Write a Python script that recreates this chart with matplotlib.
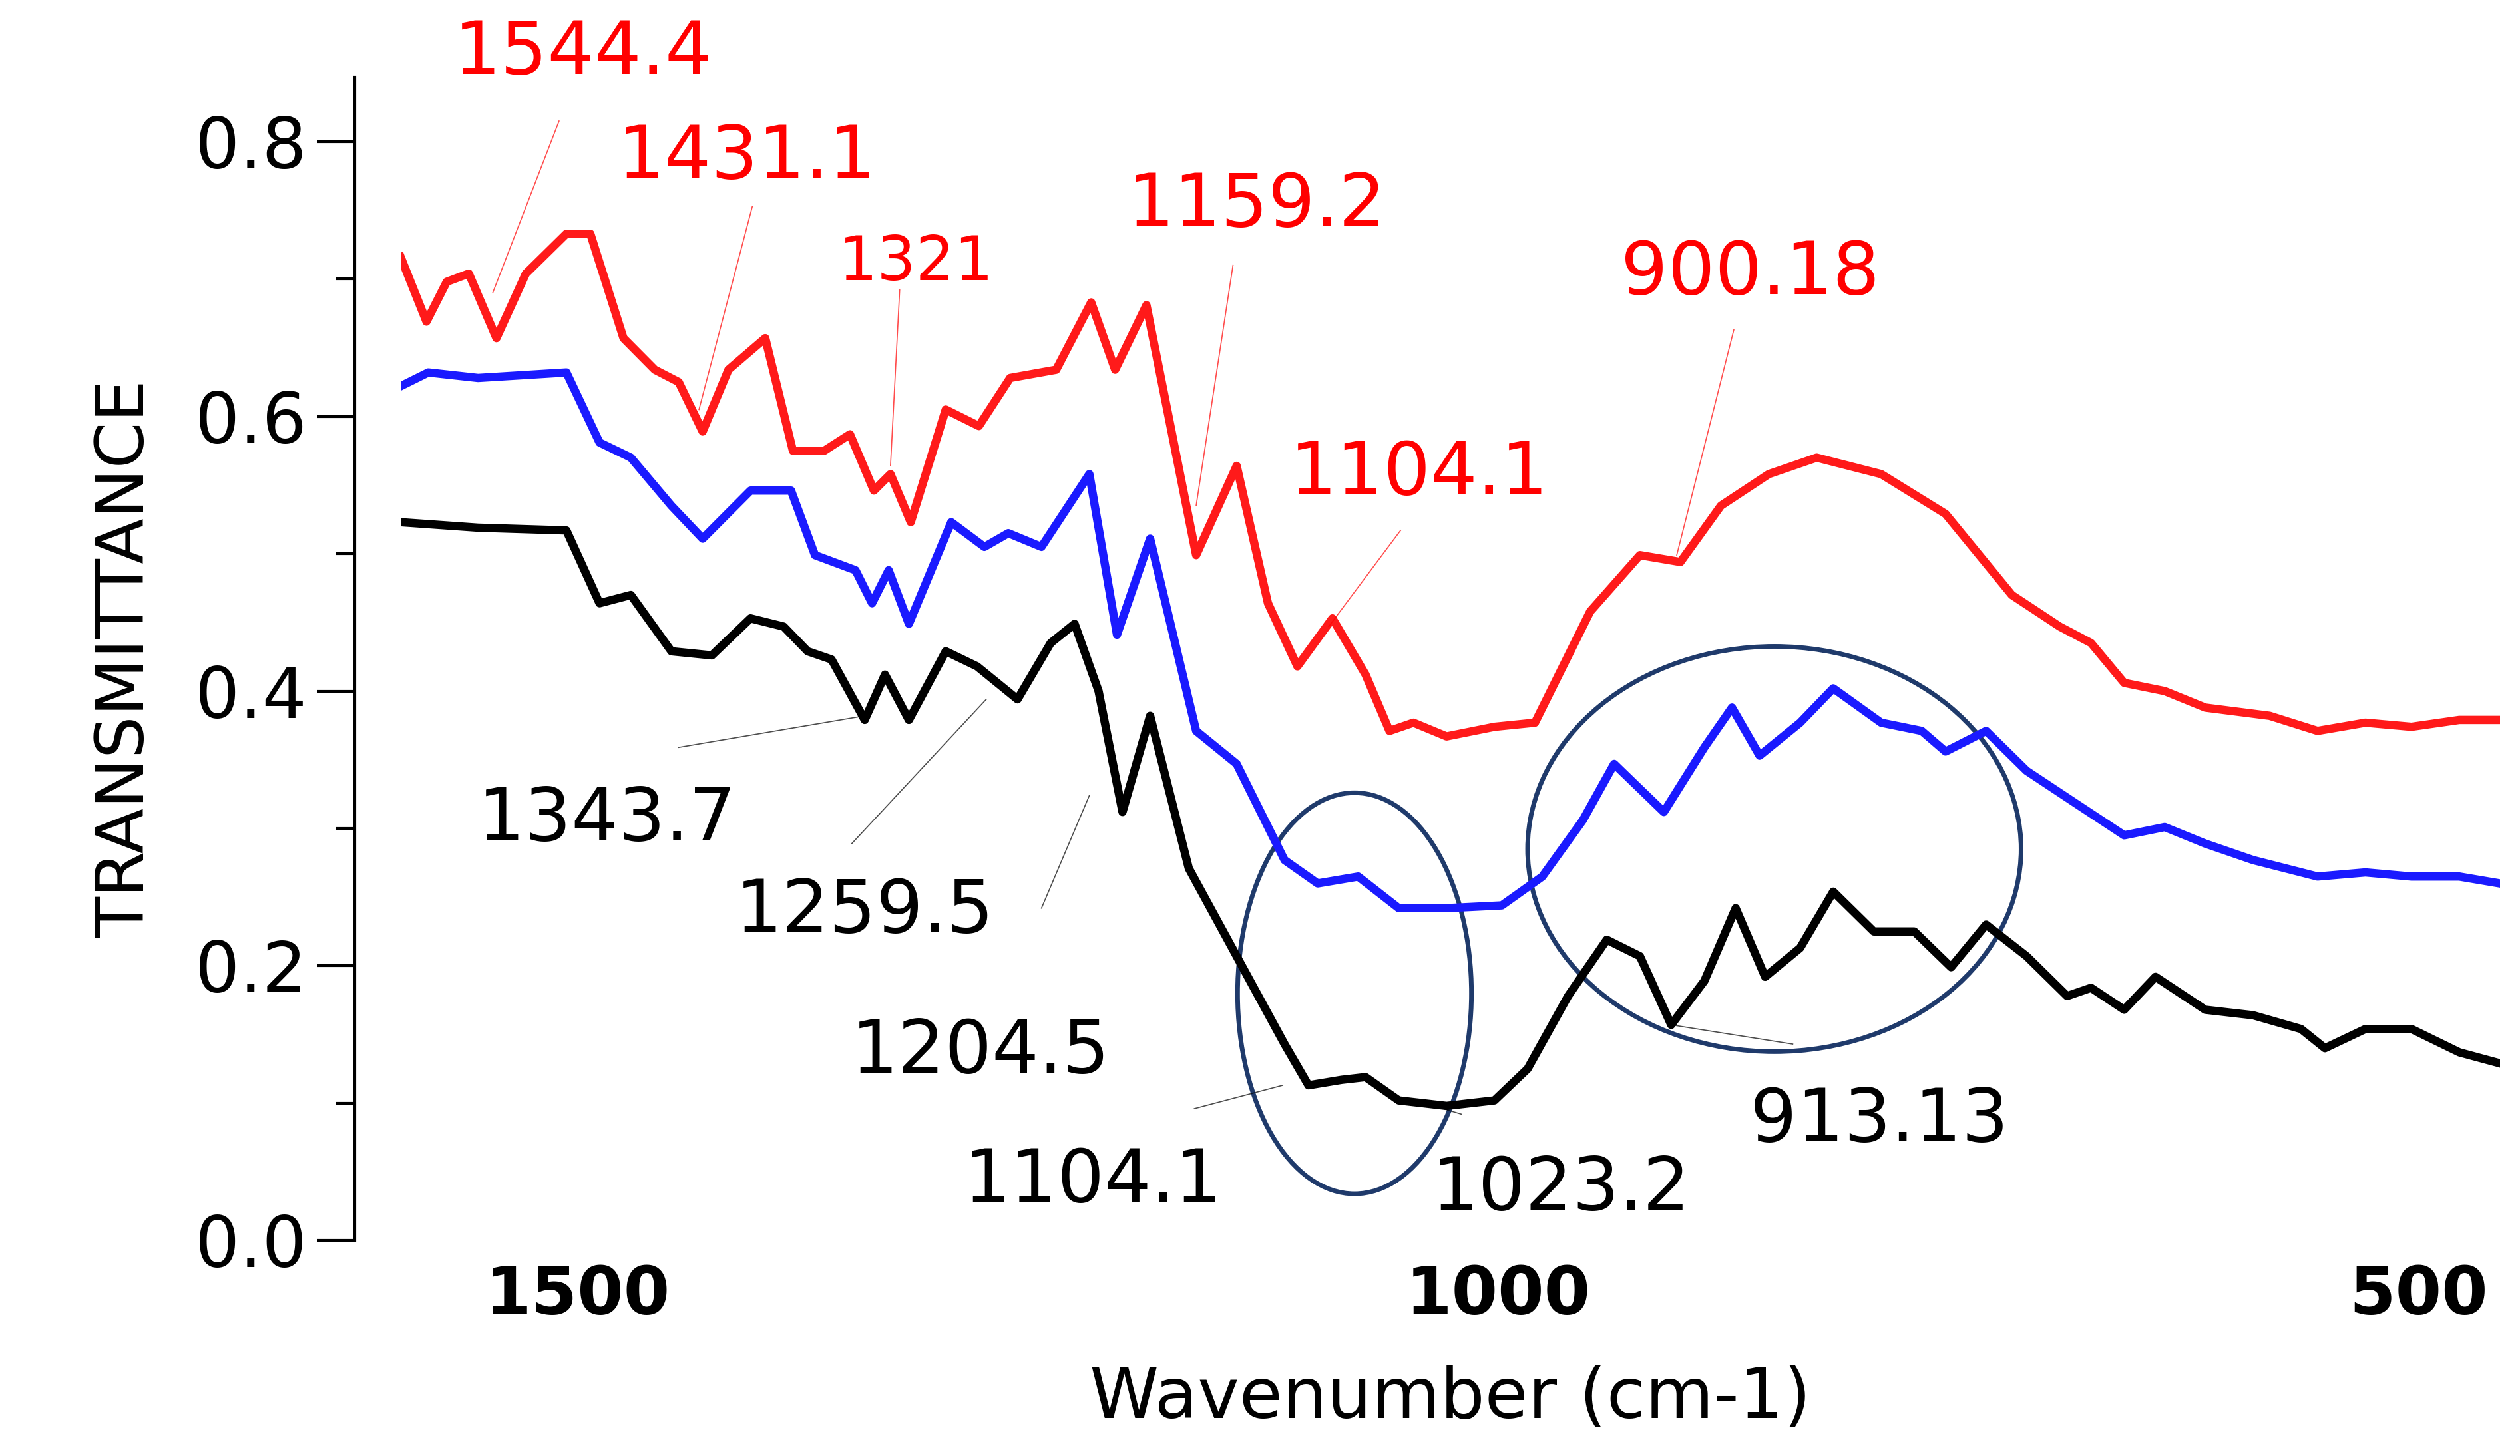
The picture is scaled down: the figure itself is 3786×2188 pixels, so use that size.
import matplotlib
matplotlib.use("Agg")
import matplotlib.pyplot as plt
from matplotlib.patches import Ellipse

red_x = [1596,1582,1571,1559,1544,1528,1506,1493,1475,1458,1445,1432,1418,1398,1383,1366,1352,1339,1330,1319,1300,1282,1265,1240,1221,1208,1191,1164,1142,1125,1109,1090,1072,1059,1046,1028,1002,980,950,923,901,879,853,827,792,757,721,695,678,660,638,616,581,555,529,504,478,456]
red_y = [0.716,0.669,0.698,0.704,0.657,0.704,0.733,0.733,0.657,0.634,0.625,0.589,0.634,0.657,0.575,0.575,0.587,0.546,0.558,0.523,0.605,0.593,0.628,0.634,0.683,0.634,0.681,0.499,0.564,0.464,0.418,0.453,0.412,0.371,0.377,0.367,0.374,0.377,0.458,0.499,0.494,0.535,0.558,0.570,0.558,0.529,0.470,0.447,0.435,0.406,0.400,0.388,0.382,0.371,0.377,0.374,0.379,0.379]
blue_x = [1596,1581,1554,1506,1488,1471,1449,1432,1406,1384,1371,1349,1340,1331,1320,1297,1279,1266,1248,1222,1207,1189,1164,1142,1116,1098,1076,1054,1028,998,976,954,937,910,888,873,858,836,818,792,770,757,735,713,686,660,638,616,590,555,529,504,478,456]
blue_y = [0.622,0.632,0.628,0.632,0.581,0.570,0.535,0.511,0.546,0.546,0.499,0.488,0.464,0.488,0.449,0.523,0.505,0.515,0.505,0.558,0.441,0.511,0.371,0.347,0.277,0.260,0.265,0.242,0.242,0.244,0.265,0.306,0.347,0.312,0.359,0.388,0.353,0.377,0.402,0.377,0.371,0.356,0.371,0.342,0.318,0.295,0.301,0.289,0.277,0.265,0.268,0.265,0.265,0.260]
black_x = [1596,1554,1506,1488,1471,1449,1427,1406,1388,1375,1362,1344,1333,1320,1300,1283,1261,1243,1230,1217,1204,1189,1168,1142,1116,1103,1085,1072,1054,1028,1002,984,962,941,923,906,888,871,855,836,818,796,774,754,735,713,691,678,660,643,616,590,564,551,529,504,478,456]
black_y = [0.523,0.519,0.517,0.464,0.470,0.429,0.426,0.453,0.447,0.429,0.423,0.379,0.412,0.379,0.429,0.418,0.394,0.435,0.449,0.400,0.312,0.382,0.271,0.207,0.143,0.113,0.117,0.119,0.102,0.098,0.102,0.125,0.178,0.219,0.207,0.157,0.189,0.242,0.192,0.213,0.254,0.225,0.225,0.199,0.230,0.207,0.178,0.184,0.168,0.192,0.168,0.164,0.154,0.140,0.154,0.154,0.137,0.129]

# (text, x, y, color, size, line from, line to)
labels = [
    ("1544.4", 1497, 0.864, "red", 80, (1510, 0.815), (1546, 0.690)),
    ("1431.1", 1408, 0.788, "red", 80, (1405, 0.753), (1434, 0.605)),
    ("1321", 1316, 0.712, "red", 66, (1325, 0.692), (1330, 0.564)),
    ("1159.2", 1131, 0.753, "red", 80, (1144, 0.710), (1164, 0.535)),
    ("1104.1", 1043, 0.558, "red", 80, (1053, 0.517), (1092, 0.447)),
    ("900.18", 863, 0.704, "red", 80, (872, 0.663), (903, 0.499)),
    ("1343.7", 1484, 0.306, "black", 80, (1445, 0.359), (1344, 0.382)),
    ("1259.5", 1344, 0.239, "black", 80, (1351, 0.289), (1278, 0.394)),
    ("1204.5", 1281, 0.137, "black", 80, (1248, 0.242), (1222, 0.324)),
    ("1104.1", 1220, 0.043, "black", 80, (1165, 0.096), (1117, 0.113)),
    ("1023.2", 966, 0.037, "black", 80, (1020, 0.092), (1030, 0.096)),
    ("913.13", 793, 0.087, "black", 80, (906, 0.157), (840, 0.143)),
]

fig = plt.figure(figsize=(37.86, 21.88), dpi=100)
ax = fig.add_axes([0.159, 0.148, 0.833, 0.799])
ax.plot(red_x, red_y, color="#ff1a1a", lw=9, solid_joinstyle="round")
ax.plot(blue_x, blue_y, color="#1a1aff", lw=9, solid_joinstyle="round")
ax.plot(black_x, black_y, color="black", lw=9, solid_joinstyle="round")
ax.set_xlim(1596, 456)
ax.set_ylim(0, 0.847)

ec = "#1f3a6b"
ax.add_patch(Ellipse((1078, 0.180), 127, 0.292, fill=False, ec=ec, lw=5))
ax.add_patch(Ellipse((850, 0.285), 268, 0.295, fill=False, ec=ec, lw=5))

for t, x, y, c, s, p0, p1 in labels:
    ax.text(x, y, t, color=c, fontsize=s, ha="center", va="center", clip_on=False)
    ax.plot([p0[0], p1[0]], [p0[1], p1[1]], color=c, lw=1.2, alpha=0.7, clip_on=False)

for side in ["top", "right", "bottom"]:
    ax.spines[side].set_visible(False)
ax.spines["left"].set_position(("outward", 50))
ax.spines["left"].set_linewidth(3)
ax.set_yticks([0.0, 0.2, 0.4, 0.6, 0.8])
ax.set_yticks([0.1, 0.3, 0.5, 0.7], minor=True)
ax.set_yticklabels(["0.0", "0.2", "0.4", "0.6", "0.8"])
ax.tick_params(axis="y", which="major", length=40, width=3, labelsize=76, pad=12)
ax.tick_params(axis="y", which="minor", length=20, width=3)
ax.set_xticks([1500, 1000, 500])
ax.set_xticklabels(["1500", "1000", "500"], fontweight="bold")
ax.tick_params(axis="x", length=0, labelsize=72, pad=25)
ax.set_xlabel("Wavenumber (cm-1)", fontsize=76, labelpad=40)
ax.set_ylabel("TRANSMITTANCE", fontsize=72, labelpad=40)
fig.savefig("out.png", dpi=100)
